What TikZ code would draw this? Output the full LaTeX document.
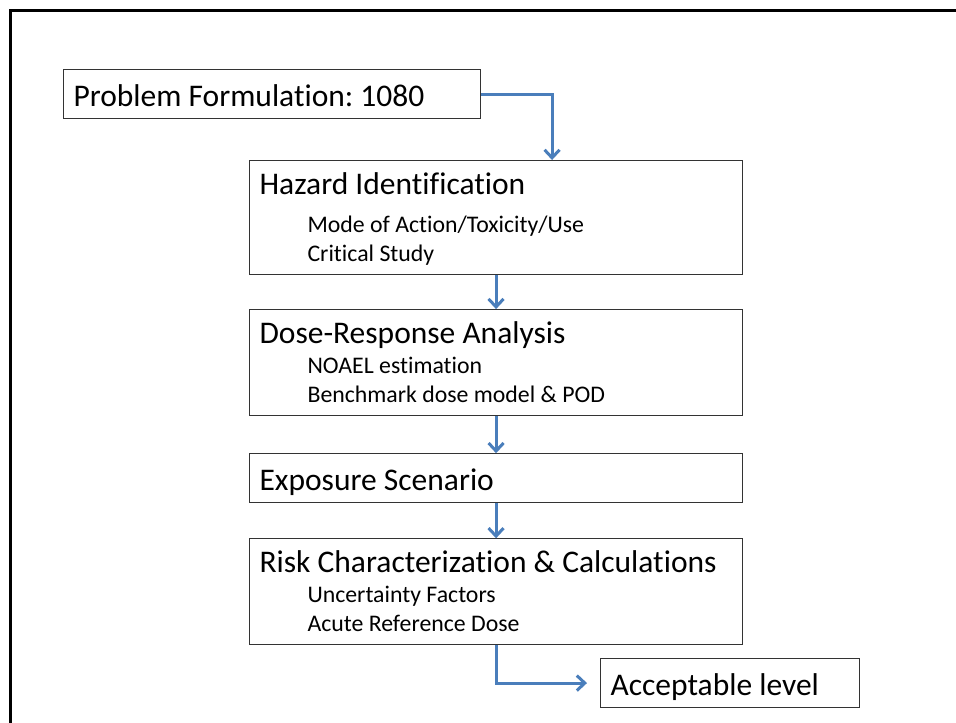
\documentclass[tikz,border=0pt]{standalone}
\usepackage{fontspec}
\setmainfont{Carlito}[Ligatures=NoCommon]
\usepackage{tikz}
\usetikzlibrary{arrows.meta, positioning}

\definecolor{arrowblue}{RGB}{74,126,187}
\setlength{\parindent}{0pt}
\frenchspacing

\newcommand{\headfont}{\fontsize{31.5}{30}\selectfont\spaceskip=0pt\xspaceskip=0pt}
\newcommand{\subfont}{\fontsize{23.8}{29.5}\selectfont\spaceskip=0pt\xspaceskip=0pt}
\newcommand{\headline}[1]{{\headfont\rule{0pt}{34pt}#1\par}}
\newcommand{\subline}[1]{{\subfont\hspace*{48pt}#1\par}}
\newcommand{\lastline}[1]{{\subfont\hspace*{48pt}#1\rule[-13pt]{0pt}{13pt}\par}}
\newcommand{\oneline}[1]{{\headfont\rule[-12pt]{0pt}{49pt}#1}}

\begin{document}
\begin{tikzpicture}[x=1pt, y=1pt, node distance=34pt]

    % Define block styles
    \tikzstyle{block} = [rectangle, draw=black!80, line width=1.1pt, fill=white,
        inner xsep=10pt, inner ysep=0pt, text width=473pt, anchor=north west]
    \tikzstyle{line} = [draw, arrowblue, line width=3pt,
        -{Straight Barb[length=8pt, width=15pt]}]

    \useasboundingbox (0,0) rectangle (956,-723);
    \clip (0,0) rectangle (956,-723);

    % slide frame
    \draw [line width=3pt] (10.8,-740) -- (10.8,-10.8) -- (980,-10.8);

    % Define nodes
    \node [block, text width=397pt] (problem) at (63,-69) {\oneline{Problem Formulation: 1080}};
    \node [block] (hazard) at (249,-160) {\headline{Hazard Identification}\vspace{8pt}
        \subline{Mode of Action/Toxicity/Use}
        \lastline{Critical Study}};
    \node [block, below=34pt of hazard.south west, anchor=north west] (dose) {\headline{Dose-Response Analysis}
        \subline{NOAEL estimation}
        \lastline{Benchmark dose model \& POD}};
    \node [block, below=37pt of dose.south west, anchor=north west] (exposure) {\oneline{Exposure Scenario}};
    \node [block, below=35pt of exposure.south west, anchor=north west] (risk) {\headline{Risk Characterization \& Calculations}
        \subline{Uncertainty Factors}
        \lastline{Acute Reference Dose}};
    \node [block, text width=239pt] (accept) at (600,-658) {\oneline{Acceptable level}};

    % Draw edges
    \path [line] (problem.east) -| ([xshift=56pt]hazard.north);
    \path [line] (hazard) -- (dose);
    \path [line] (dose) -- (exposure);
    \path [line] (exposure) -- (risk);
    \path [line] (risk.south) |- ([xshift=-13pt]accept.west);

\end{tikzpicture}
\end{document}
